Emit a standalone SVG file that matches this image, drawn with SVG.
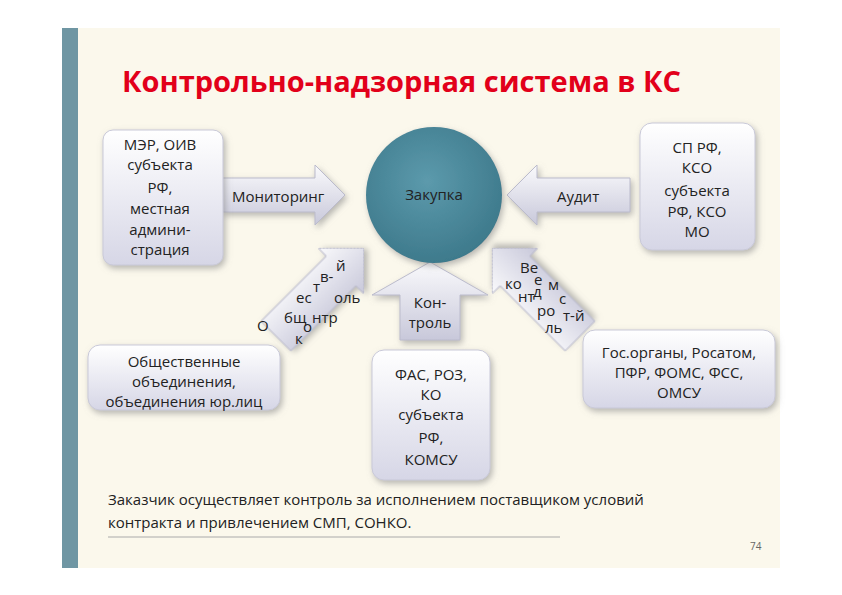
<svg xmlns="http://www.w3.org/2000/svg" width="842" height="595" viewBox="0 0 842 595">
<defs>
<linearGradient id="box" x1="0" y1="0" x2="0" y2="1"><stop offset="0" stop-color="#ffffff"/><stop offset="1" stop-color="#d6d6e6"/></linearGradient>
<linearGradient id="arr" x1="0" y1="0" x2="0" y2="1"><stop offset="0" stop-color="#fafafc"/><stop offset="1" stop-color="#c8c8da"/></linearGradient>
<radialGradient id="ball" cx="0.45" cy="0.4" r="0.6"><stop offset="0" stop-color="#5c9aac"/><stop offset="1" stop-color="#3e7a8c"/></radialGradient>
<filter id="sh" x="-20%" y="-20%" width="140%" height="140%"><feDropShadow dx="2" dy="3" stdDeviation="3" flood-color="#888" flood-opacity="0.6"/></filter>
</defs>
<style>
text{font-family:"Open Sans","DejaVu Sans",sans-serif;fill:#222;font-size:15px}
.b{fill:url(#box);stroke:#c9c9d8;stroke-width:1;filter:url(#sh)}
.a{fill:url(#arr);stroke:#bbbbcc;stroke-width:1;filter:url(#sh)}
.c{text-anchor:middle}
.s{font-size:13px}
</style>
<rect width="842" height="595" fill="#fff"/>
<rect x="62" y="28" width="718" height="540" fill="#fbf8ec"/>
<rect x="62" y="28" width="16" height="540" fill="#6f96a3"/>
<text x="122" y="92" style="font-size:29px;font-weight:bold;fill:#e2001a;font-family:'Open Sans','DejaVu Sans',sans-serif">Контрольно-надзорная система в КС</text>
<g id="connectors">
<path class="a" d="M222,178 H315 V165 L345,195 L315,225 V212 H222 Z"/>
<text x="232" y="202">Мониторинг</text>
<path class="a" d="M630,178 H537 V165 L507,195 L537,225 V212 H630 Z"/>
<text x="557" y="202">Аудит</text>
<path class="a" d="M400,340 V295 H372 L430,262 L488,295 H460 V340 Z"/>
<text class="c" x="430" y="308">Кон-</text><text class="c" x="430" y="328">троль</text>
<path class="a" transform="translate(276,336) rotate(-45)" d="M0,-21 H92 V-32 L124,0 L92,32 V21 H0 Z"/>
<g class="s"><text x="336" y="271">й</text><text x="320" y="282">в-</text><text x="313" y="292">т</text><text x="296" y="303">ес</text><text x="334" y="303">оль</text><text x="284" y="323">бщ</text><text x="312" y="323">нтр</text><text x="257" y="331">О</text><text x="303" y="332">о</text><text x="295" y="344">к</text></g>
<path class="a" transform="translate(580,336) rotate(-135)" d="M0,-21 H92 V-32 L124,0 L92,32 V21 H0 Z"/>
<g class="s"><text x="520" y="273">Ве</text><text x="505" y="289">ко</text><text x="533" y="297">д</text><text x="534" y="285">е</text><text x="548" y="290">м</text><text x="518" y="302">нт</text><text x="559" y="304">с</text><text x="537" y="316">ро</text><text x="563" y="321">т-й</text><text x="545" y="333">ль</text></g>
</g>
<g id="purchase"><circle cx="434" cy="195" r="68" fill="url(#ball)" filter="url(#sh)"/><text class="c" x="434" y="200">Закупка</text></g>
<g id="left"><rect class="b" x="103" y="130" width="120" height="135" rx="10"/>
<text class="c" x="160" y="150">МЭР, ОИВ</text><text class="c" x="160" y="170">субъекта</text><text class="c" x="160" y="193">РФ,</text><text class="c" x="160" y="214">местная</text><text class="c" x="160" y="235">админи-</text><text class="c" x="160" y="255">страция</text></g>
<g id="right"><rect class="b" x="640" y="123" width="115" height="127" rx="12"/>
<text class="c" x="697" y="153">СП РФ,</text><text class="c" x="697" y="173">КСО</text><text class="c" x="697" y="196">субъекта</text><text class="c" x="697" y="217">РФ, КСО</text><text class="c" x="697" y="237">МО</text></g>
<g id="public"><rect class="b" x="88" y="345" width="192" height="65" rx="12"/>
<text class="c" x="184" y="367">Общественные</text><text class="c" x="184" y="387">объединения,</text><text class="c" x="184" y="407">объединения юр.лиц</text></g>
<g id="fas"><rect class="b" x="372" y="350" width="118" height="130" rx="12"/>
<text class="c" x="431" y="380">ФАС, РОЗ,</text><text class="c" x="431" y="400">КО</text><text class="c" x="431" y="420">субъекта</text><text class="c" x="431" y="443">РФ,</text><text class="c" x="431" y="465">КОМСУ</text></g>
<g id="gos"><rect class="b" x="583" y="330" width="192" height="78" rx="12"/>
<text class="c" x="679" y="358">Гос.органы, Росатом,</text><text class="c" x="679" y="378">ПФР, ФОМС, ФСС,</text><text class="c" x="679" y="398">ОМСУ</text></g>
<text x="108" y="505">Заказчик осуществляет контроль за исполнением поставщиком условий</text>
<text x="108" y="528">контракта и привлечением СМП, СОНКО.</text>
<line x1="108" y1="537" x2="560" y2="537" stroke="#aaa" stroke-width="1"/>
<text x="750" y="550" style="font-size:10px;fill:#666">74</text>
</svg>
